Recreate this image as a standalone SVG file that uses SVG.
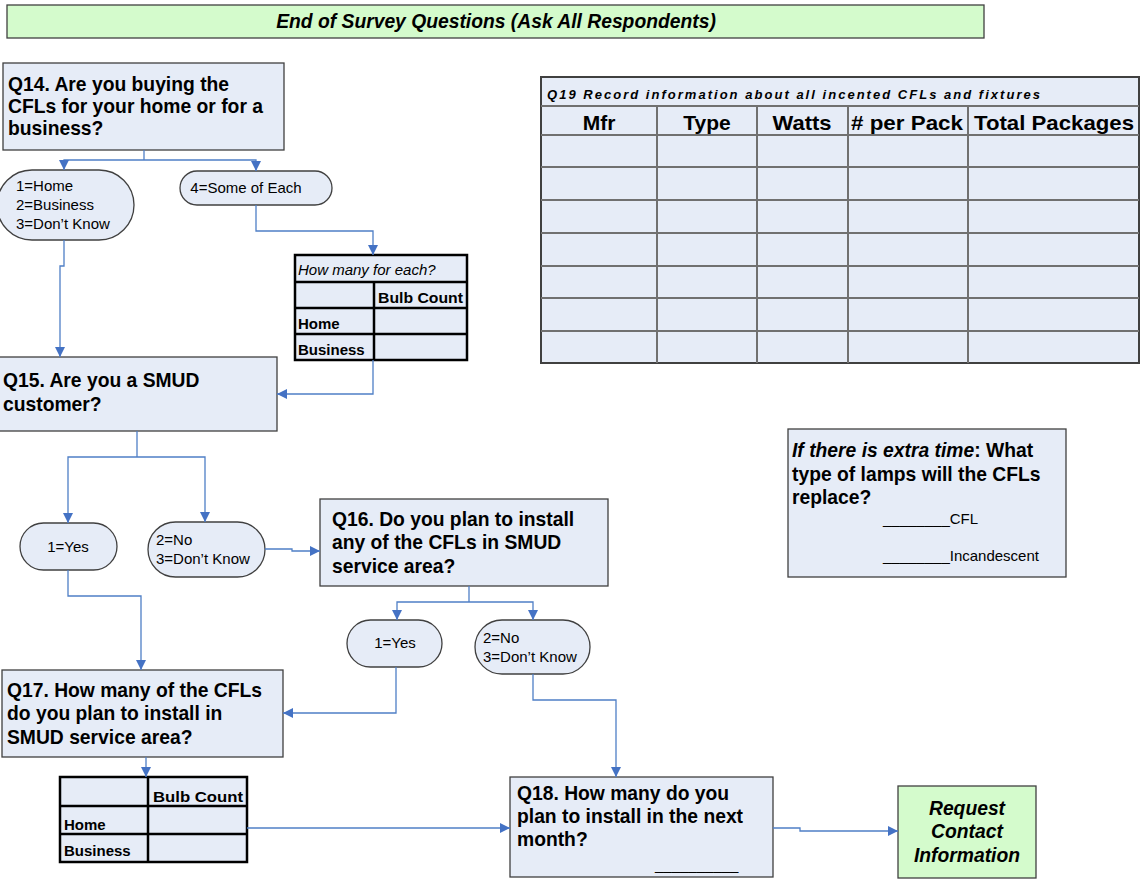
<svg xmlns="http://www.w3.org/2000/svg" width="1141" height="880" viewBox="0 0 1141 880">
<style>
.box{fill:#e6ecf7;stroke:#404040;stroke-width:1.3}
.green{fill:#d4fbcc;stroke:#404040;stroke-width:1.3}
.tbl{fill:#e6ecf7;stroke:#000;stroke-width:2.5}
.tl{stroke:#000;stroke-width:2.5;fill:none}
.gl{stroke:#707070;stroke-width:2;fill:none}
.q{font-family:"Liberation Sans",Arial,sans-serif;font-weight:bold;font-size:19.3px;fill:#000}
.o{font-family:"Liberation Sans",Arial,sans-serif;font-size:15px;fill:#000}
.tb{font-family:"Liberation Sans",Arial,sans-serif;font-weight:bold;font-size:15px;fill:#000}
.conn path{fill:none;stroke:#4f7fc6;stroke-width:1.3}
</style>
<defs>
<marker id="ah" markerWidth="10" markerHeight="10" refX="10" refY="5" orient="auto" markerUnits="userSpaceOnUse">
<path d="M0,0 L10,5 L0,10 Z" fill="#4472c4"/>
</marker>
</defs>

<g id="title">
<rect x="7" y="5" width="977" height="33" class="green"/>
<text x="496" y="28" text-anchor="middle" class="q" font-style="italic" font-size="18.4">End of Survey Questions (Ask All Respondents)</text>
</g>

<g id="q14">
<rect x="3" y="63" width="281" height="87" class="box"/>
<text class="q"><tspan x="8" y="91">Q14. Are you buying the</tspan><tspan x="8" y="113">CFLs for your home or for a</tspan><tspan x="8" y="135">business?</tspan></text>
</g>

<g id="o14a">
<rect x="-3" y="170" width="137" height="70" rx="35" ry="35" class="box"/>
<text class="o"><tspan x="16" y="191">1=Home</tspan><tspan x="16" y="210">2=Business</tspan><tspan x="16" y="229">3=Don’t Know</tspan></text>
</g>

<g id="o14b">
<rect x="180" y="171" width="152" height="34" rx="17" ry="17" class="box"/>
<text x="246" y="193" text-anchor="middle" class="o">4=Some of Each</text>
</g>

<g id="each">
<rect x="295" y="255" width="172" height="105" class="tbl"/>
<path class="tl" d="M295 282H467M295 308H467M295 334H467M374 282V360"/>
<text x="298" y="275" class="o" font-style="italic" font-size="15.3">How many for each?</text>
<text x="378" y="303" class="tb" textLength="85" lengthAdjust="spacingAndGlyphs">Bulb Count</text>
<text x="298" y="329" class="tb">Home</text>
<text x="298" y="355" class="tb">Business</text>
</g>

<g id="q15">
<rect x="-2" y="357" width="279" height="74" class="box"/>
<text class="q"><tspan x="3" y="387">Q15. Are you a SMUD</tspan><tspan x="3" y="411">customer?</tspan></text>
</g>

<g id="o15a">
<rect x="20" y="523" width="97" height="47" rx="23.5" ry="23.5" class="box"/>
<text x="68" y="552" text-anchor="middle" class="o">1=Yes</text>
</g>

<g id="o15b">
<rect x="148" y="522" width="117" height="55" rx="27.5" ry="27.5" class="box"/>
<text class="o"><tspan x="156" y="545">2=No</tspan><tspan x="156" y="564">3=Don’t Know</tspan></text>
</g>

<g id="q16">
<rect x="320" y="499" width="288" height="87" class="box"/>
<text class="q"><tspan x="332" y="526">Q16. Do you plan to install</tspan><tspan x="332" y="549">any of the CFLs in SMUD</tspan><tspan x="332" y="573">service area?</tspan></text>
</g>

<g id="o16a">
<rect x="347" y="620" width="95" height="47" rx="23.5" ry="23.5" class="box"/>
<text x="395" y="648" text-anchor="middle" class="o">1=Yes</text>
</g>

<g id="o16b">
<rect x="475" y="620" width="115" height="54" rx="27" ry="27" class="box"/>
<text class="o"><tspan x="483" y="643">2=No</tspan><tspan x="483" y="662">3=Don’t Know</tspan></text>
</g>

<g id="q17">
<rect x="2" y="670" width="281" height="87" class="box"/>
<text class="q"><tspan x="7" y="697">Q17. How many of the CFLs</tspan><tspan x="7" y="720">do you plan to install in</tspan><tspan x="7" y="744">SMUD service area?</tspan></text>
</g>

<g id="count">
<rect x="60" y="777" width="187" height="85" class="tbl"/>
<path class="tl" d="M60 806H247M60 834H247M148 777V862"/>
<text x="153" y="802" class="tb" textLength="90" lengthAdjust="spacingAndGlyphs">Bulb Count</text>
<text x="64" y="830" class="tb">Home</text>
<text x="64" y="856" class="tb">Business</text>
</g>

<g id="q18">
<rect x="510" y="777" width="263" height="100" class="box"/>
<text class="q"><tspan x="517" y="800">Q18. How many do you</tspan><tspan x="517" y="823">plan to install in the next</tspan><tspan x="517" y="846">month?</tspan></text>
<text x="655" y="870" class="o">__________</text>
</g>

<g id="contact">
<rect x="898" y="786" width="138" height="92" class="green"/>
<text class="q" font-style="italic" text-anchor="middle"><tspan x="967" y="815">Request</tspan><tspan x="967" y="838">Contact</tspan><tspan x="967" y="862">Information</tspan></text>
</g>

<g id="extra">
<rect x="788" y="429" width="278" height="148" class="box"/>
<text class="q"><tspan x="792" y="457"><tspan font-style="italic">If there is extra time</tspan>: What</tspan><tspan x="792" y="481">type of lamps will the CFLs</tspan><tspan x="792" y="504">replace?</tspan></text>
<text x="883" y="524" class="o">________CFL</text>
<text x="883" y="561" class="o">________Incandescent</text>
</g>

<g id="q19">
<rect x="541" y="77" width="598" height="286" fill="#e6ecf7" stroke="#404040" stroke-width="2"/>
<path class="gl" d="M541 106H1139M541 135H1139M541 167H1139M541 200H1139M541 233H1139M541 266H1139M541 298H1139M541 331H1139"/>
<path class="gl" d="M657 106V363M757 106V363M848 106V363M968 106V363"/>
<text x="547" y="99" font-family="Liberation Sans,Arial,sans-serif" font-weight="bold" font-style="italic" font-size="13" textLength="493" lengthAdjust="spacing">Q19 Record information about all incented CFLs and fixtures</text>
<g font-family="Liberation Sans,Arial,sans-serif" font-weight="bold" font-size="21" text-anchor="middle">
<text x="599" y="130">Mfr</text>
<text x="707" y="130">Type</text>
<text x="802" y="130" textLength="59" lengthAdjust="spacingAndGlyphs">Watts</text>
<text x="907" y="130" textLength="112" lengthAdjust="spacingAndGlyphs">#  per Pack</text>
<text x="1054" y="130" textLength="160" lengthAdjust="spacingAndGlyphs">Total Packages</text>
</g>
</g>

<g class="conn">
<path d="M144 150V160"/>
<path d="M144 160H64V170" marker-end="url(#ah)"/>
<path d="M144 160H256V171" marker-end="url(#ah)"/>
<path d="M256 205V231H373V255" marker-end="url(#ah)"/>
<path d="M64 240V266H60V357" marker-end="url(#ah)"/>
<path d="M373 360V394H277" marker-end="url(#ah)"/>
<path d="M137 431V457"/>
<path d="M137 457H68V523" marker-end="url(#ah)"/>
<path d="M137 457H205V522" marker-end="url(#ah)"/>
<path d="M265 549H292V551H320" marker-end="url(#ah)"/>
<path d="M68 570V596H141V670" marker-end="url(#ah)"/>
<path d="M469 586V602"/>
<path d="M469 602H397V620" marker-end="url(#ah)"/>
<path d="M469 602H533V620" marker-end="url(#ah)"/>
<path d="M396 667V713H283" marker-end="url(#ah)"/>
<path d="M533 674V700H616V777" marker-end="url(#ah)"/>
<path d="M146 757V777" marker-end="url(#ah)"/>
<path d="M247 828H510" marker-end="url(#ah)"/>
<path d="M773 828H800V831H898" marker-end="url(#ah)"/>
</g>
</svg>
